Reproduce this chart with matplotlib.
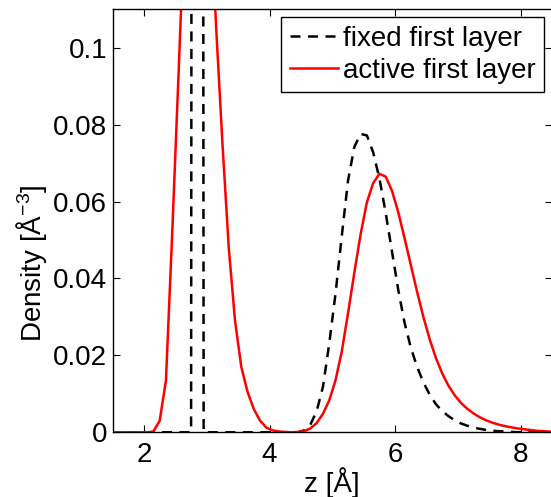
import numpy as np
import matplotlib
matplotlib.use("Agg")
import matplotlib.pyplot as plt

plt.rcParams['font.family'] = ['Liberation Sans', 'DejaVu Sans']
plt.rcParams['mathtext.fontset'] = 'custom'
plt.rcParams['mathtext.rm'] = 'Liberation Sans'
plt.rcParams['mathtext.it'] = 'Liberation Sans:italic'

# z grid (Angstrom), step 0.1 from 1.45 to 8.55
z = np.round(np.arange(1.45, 8.56, 0.1), 2)

# fixed first layer density
fixed = [
    0, 0, 0, 0, 0, 0, 0, 0, 0, 0,          # 1.45-2.35
    0, 0, 0, 0, 2.0, 0, 0, 0, 0, 0,        # 2.45-3.35
    0, 0, 0, 0, 0, 0, 0, 0, 0, 0,          # 3.45-4.35
    0, 0.0005, 0.002, 0.0055, 0.0118, 0.023, 0.036, 0.051, 0.0655, 0.0742,  # 4.45-5.35
    0.0776, 0.0772, 0.0728, 0.066, 0.057, 0.047, 0.037, 0.0285, 0.022, 0.017,  # 5.45-6.35
    0.013, 0.0098, 0.0073, 0.0055, 0.0042, 0.0031, 0.0023, 0.0017, 0.0012, 0.0009,  # 6.45-7.35
    0.0006, 0.0004, 0.0003, 0.0002, 0.0001, 0, 0, 0, 0, 0,  # 7.45-8.35
    0, 0,                                   # 8.45-8.55
]

# active first layer density
active = [
    0, 0, 0, 0, 0, 0, 0, 0.0002, 0.003, 0.0135,  # 1.45-2.35
    0.052, 0.093, 0.135, 0.17, 0.18, 0.17, 0.14, 0.105, 0.075, 0.048,  # 2.45-3.35
    0.029, 0.017, 0.0105, 0.006, 0.003, 0.0012, 0.0005, 0.0002, 0.0001, 0,  # 3.45-4.35
    0.0001, 0.0003, 0.001, 0.0024, 0.0048, 0.0083, 0.0135, 0.021, 0.031, 0.0415,  # 4.45-5.35
    0.0515, 0.0598, 0.0648, 0.0672, 0.0665, 0.0628, 0.0572, 0.0505, 0.0435, 0.0365,  # 5.45-6.35
    0.0300, 0.0242, 0.0193, 0.0153, 0.0121, 0.0096, 0.0076, 0.0061, 0.0049, 0.0039,  # 6.45-7.35
    0.0031, 0.0025, 0.002, 0.0016, 0.0013, 0.001, 0.0008, 0.0006, 0.0004, 0.0003,  # 7.45-8.35
    0.0002, 0.0001,                          # 8.45-8.55
]

labels = ['fixed first layer', 'active first layer']
xticks = [2, 4, 6, 8]
yticks = [0, 0.02, 0.04, 0.06, 0.08, 0.1]
yticklabels = ['0', '0.02', '0.04', '0.06', '0.08', '0.1']

W, H = 551, 497
fig = plt.figure(figsize=(W / 100, H / 100), dpi=100)
ax = fig.add_axes([112.6 / W, (H - 432.3) / H, 439.5 / W, 423.0 / H])

ax.plot(z, fixed, color='black', lw=1.8, linestyle=(0, (4, 3)), label=labels[0])
ax.plot(z, active, color='red', lw=1.8, label=labels[1])

ax.set_xlim(1.5, 8.5)
ax.set_ylim(0, 0.11)
ax.set_xticks(xticks)
ax.set_yticks(yticks)
ax.set_yticklabels(yticklabels)
ax.tick_params(direction='in', length=5, width=0.8, labelsize=20,
               top=True, right=True)
ax.tick_params(axis='x', pad=7)
ax.tick_params(axis='y', pad=4)
for s in ax.spines.values():
    s.set_linewidth(1.0)

fig.text(31.5 / W, 1 - 263 / H, r'Density [Å$^{-3}$]', rotation=90,
         ha='center', va='center', fontsize=20)
fig.text(332 / W, 1 - 483 / H, 'z [Å]', ha='center', va='center', fontsize=20)

leg = ax.legend(loc='upper right', bbox_to_anchor=(544 / W, 1 - 17.3 / H),
                bbox_transform=fig.transFigure, borderaxespad=0,
                fontsize=20, handlelength=1.73, handletextpad=0.19,
                borderpad=0.3, labelspacing=0.22, fancybox=False,
                framealpha=1, edgecolor='black')
leg.get_frame().set_linewidth(1.0)

fig.savefig('out.png', dpi=100)
